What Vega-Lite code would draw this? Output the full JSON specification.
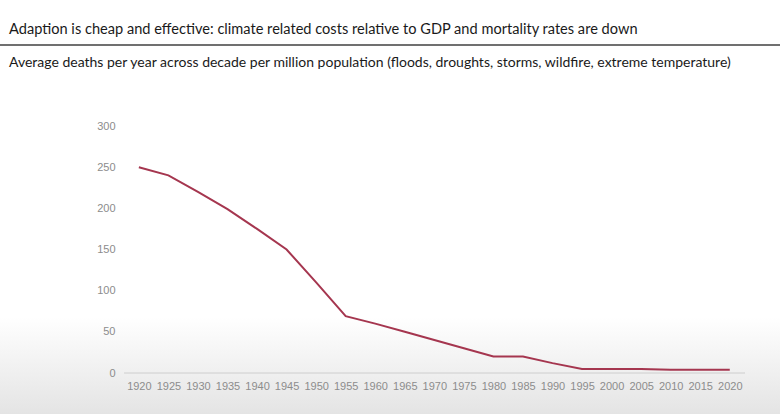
{
  "$schema": "https://vega.github.io/schema/vega-lite/v6.json",
  "autosize": "none",
  "width": 780,
  "height": 328,
  "padding": {"left": 0, "top": 45, "right": 0, "bottom": 41},
  "background": "white",
  "config": {"view": {"stroke": null}, "font": "Lato"},
  "title": {
    "text": "Adaption is cheap and effective: climate related costs relative to GDP and mortality rates are down",
    "subtitle": "Average deaths per year across decade per million population (floods, droughts, storms, wildfire, extreme temperature)",
    "anchor": "start",
    "dx": 10,
    "font": "Lato",
    "fontSize": 14.6,
    "fontWeight": "normal",
    "color": "#1a1a1a",
    "subtitleFont": "Lato",
    "subtitleFontSize": 14,
    "subtitleColor": "#1a1a1a",
    "subtitlePadding": 19,
    "offset": -26
  },
  "data": {
    "values": [
      {"year": 1920, "deaths": 250},
      {"year": 1925, "deaths": 240},
      {"year": 1930, "deaths": 220},
      {"year": 1935, "deaths": 199},
      {"year": 1940, "deaths": 175},
      {"year": 1945, "deaths": 150},
      {"year": 1950, "deaths": 110},
      {"year": 1955, "deaths": 69},
      {"year": 1960, "deaths": 60},
      {"year": 1965, "deaths": 50},
      {"year": 1970, "deaths": 40},
      {"year": 1975, "deaths": 30},
      {"year": 1980, "deaths": 20},
      {"year": 1985, "deaths": 20},
      {"year": 1990, "deaths": 12},
      {"year": 1995, "deaths": 5},
      {"year": 2000, "deaths": 5},
      {"year": 2005, "deaths": 5},
      {"year": 2010, "deaths": 4},
      {"year": 2015, "deaths": 4},
      {"year": 2020, "deaths": 4}
    ]
  },
  "layer": [
    {
      "mark": {"type": "rect", "fill": {"gradient": "linear", "x1": 0, "y1": 0, "x2": 0, "y2": 1, "stops": [{"offset": 0, "color": "#ffffff"}, {"offset": 1, "color": "#e4e4e4"}]}},
      "encoding": {
        "x": {"datum": 1896.5, "type": "quantitative"},
        "x2": {"datum": 2028.5},
        "y": {"datum": 68, "type": "quantitative"},
        "y2": {"datum": -50}
      }
    },
    {
      "mark": {"type": "rule", "color": "#707070", "strokeWidth": 2},
      "encoding": {"y": {"datum": 398.4, "type": "quantitative"}}
    },
    {
      "mark": {"type": "rule", "color": "#dedede", "strokeWidth": 1},
      "encoding": {
        "x": {"datum": 1917.5, "type": "quantitative"},
        "x2": {"datum": 2022.5},
        "y": {"datum": 0, "type": "quantitative"}
      }
    },
    {
      "mark": {"type": "line", "color": "#a5364f", "strokeWidth": 2},
      "encoding": {
        "x": {
          "field": "year",
          "type": "quantitative",
          "scale": {"domain": [1896.5, 2028.5], "nice": false, "zero": false},
          "axis": {
            "values": [1920, 1925, 1930, 1935, 1940, 1945, 1950, 1955, 1960, 1965, 1970, 1975, 1980, 1985, 1990, 1995, 2000, 2005, 2010, 2015, 2020],
            "tickCount": 30,
            "format": "d",
            "title": null,
            "domain": false,
            "ticks": false,
            "grid": false,
            "zindex": 1,
            "labelOverlap": false,
            "labelPadding": 7,
            "labelFontSize": 11,
            "labelColor": "#8c8c8c",
            "labelFont": "Liberation Sans"
          }
        },
        "y": {
          "field": "deaths",
          "type": "quantitative",
          "scale": {"domain": [0, 398.4], "nice": false},
          "axis": {
            "values": [0, 50, 100, 150, 200, 250, 300],
            "title": null,
            "domain": false,
            "ticks": false,
            "grid": false,
            "zindex": 1,
            "offset": -124,
            "labelPadding": 9,
            "labelFontSize": 11,
            "labelColor": "#8c8c8c",
            "labelFont": "Liberation Sans"
          }
        }
      }
    }
  ]
}
